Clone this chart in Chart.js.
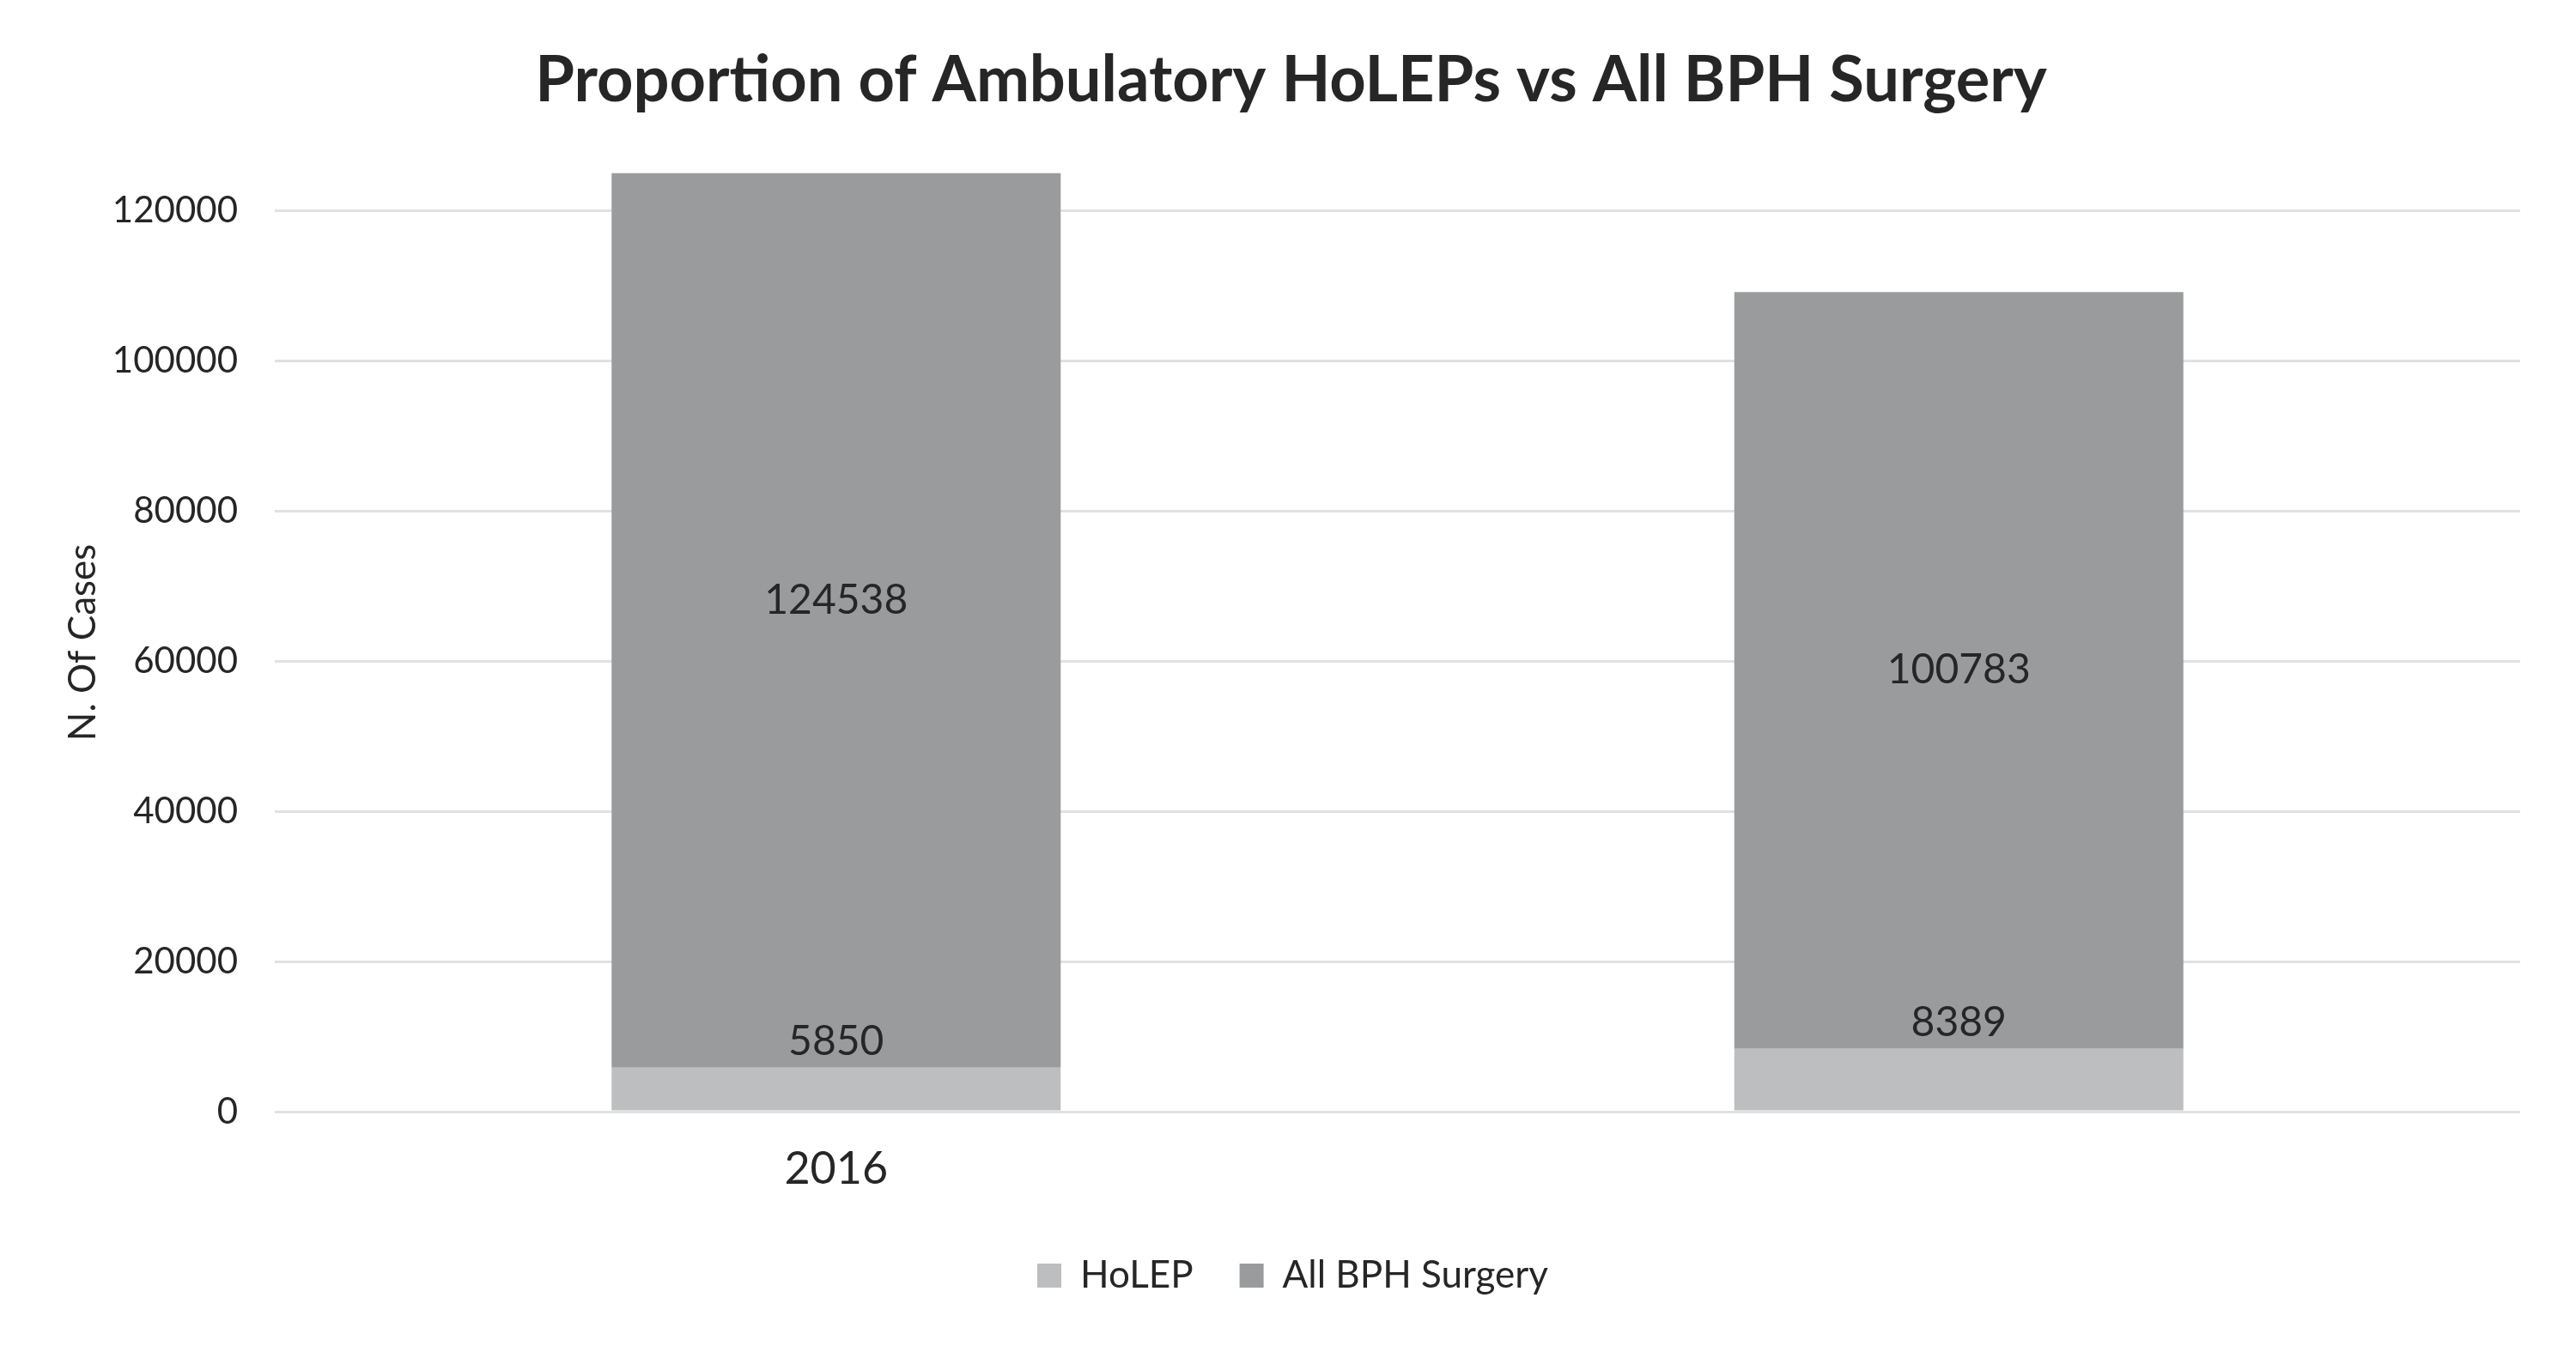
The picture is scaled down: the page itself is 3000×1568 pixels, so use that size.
<!DOCTYPE html>
<html lang="en">
<head>
    <meta charset="UTF-8">
    <title>Proportion of Ambulatory HoLEPs vs All BPH Surgery</title>
    <style>
        html, body { margin: 0; padding: 0; background: #ffffff; }
        canvas { display: block; }
    </style>
</head>
<body>
    <canvas id="holepChart" width="3000" height="1568"></canvas>

    <script src="https://cdn.jsdelivr.net/npm/chart.js"></script>
    <script>
        // data
        const years = ['2016', ''];
        const holepCases = [5850, 8389];
        const allBphCases = [124538, 100783];
        const yTicks = [0, 20000, 40000, 60000, 80000, 100000, 120000];
        const yMax = 125000;

        const textColor = '#262626';
        const fontFamily = 'Lato, "Open Sans", sans-serif';

        // draws the numbers on the bars (same spot Excel puts them)
        const barLabels = {
            id: 'barLabels',
            afterDatasetsDraw(chart) {
                const ctx = chart.ctx;
                ctx.save();
                ctx.fillStyle = textColor;
                ctx.font = '48px ' + fontFamily;
                ctx.textAlign = 'center';
                ctx.textBaseline = 'middle';

                chart.getDatasetMeta(0).data.forEach((bar, i) => {
                    ctx.fillText(String(holepCases[i]), bar.x, bar.y - 30);
                });
                chart.getDatasetMeta(1).data.forEach((bar, i) => {
                    ctx.fillText(String(allBphCases[i]), bar.x, (bar.y + bar.base) / 2);
                });
                ctx.restore();
            }
        };

        // title and legend in the original sit on the canvas middle, not the padded one
        const nudgeBlocks = {
            id: 'nudgeBlocks',
            afterLayout(chart) {
                chart.legend.left += 38;
                chart.legend.right += 38;
                chart.titleBlock.left += 36;
                chart.titleBlock.right += 36;
            }
        };

        new Chart(document.getElementById('holepChart'), {
            type: 'bar',
            data: {
                labels: years,
                datasets: [
                    {
                        label: 'HoLEP',
                        data: holepCases,
                        backgroundColor: '#bdbebf'
                    },
                    {
                        label: 'All BPH Surgery',
                        data: allBphCases,
                        backgroundColor: '#9a9b9d'
                    }
                ]
            },
            options: {
                responsive: false,
                devicePixelRatio: 1,
                animation: false,
                categoryPercentage: 1,
                barPercentage: 0.4,
                layout: { padding: { left: 0, right: 65, top: 0, bottom: 50 } },
                plugins: {
                    title: {
                        display: true,
                        text: 'Proportion of Ambulatory HoLEPs vs All BPH Surgery',
                        color: textColor,
                        font: { family: fontFamily, size: 74, weight: 'bold' },
                        padding: { top: 50, bottom: 63 }
                    },
                    legend: {
                        position: 'bottom',
                        labels: {
                            color: textColor,
                            font: { family: fontFamily, size: 44 },
                            boxWidth: 28,
                            boxHeight: 28,
                            padding: 54
                        }
                    },
                    tooltip: { enabled: false }
                },
                scales: {
                    x: {
                        stacked: true,
                        grid: { display: false },
                        border: { display: false },
                        ticks: {
                            color: textColor,
                            font: { family: fontFamily, size: 52 },
                            padding: 28,
                            maxRotation: 0
                        },
                        afterFit(scale) { scale.height = 115; }
                    },
                    y: {
                        stacked: true,
                        min: 0,
                        max: yMax,
                        grid: { color: '#e1e1e1', lineWidth: 3, drawTicks: false },
                        border: { display: false },
                        ticks: {
                            stepSize: 20000,
                            color: textColor,
                            font: { family: fontFamily, size: 42 },
                            padding: 43,
                            callback: (v) => String(v)
                        },
                        afterBuildTicks(scale) {
                            scale.ticks = yTicks.map(v => ({ value: v }));
                        },
                        title: {
                            display: true,
                            text: 'N. Of Cases',
                            color: textColor,
                            font: { family: fontFamily, size: 44 },
                            padding: { top: 70, bottom: 0 }
                        },
                        afterFit(scale) { scale.width = 320; }
                    }
                }
            },
            plugins: [barLabels, nudgeBlocks]
        });
    </script>
</body>
</html>
